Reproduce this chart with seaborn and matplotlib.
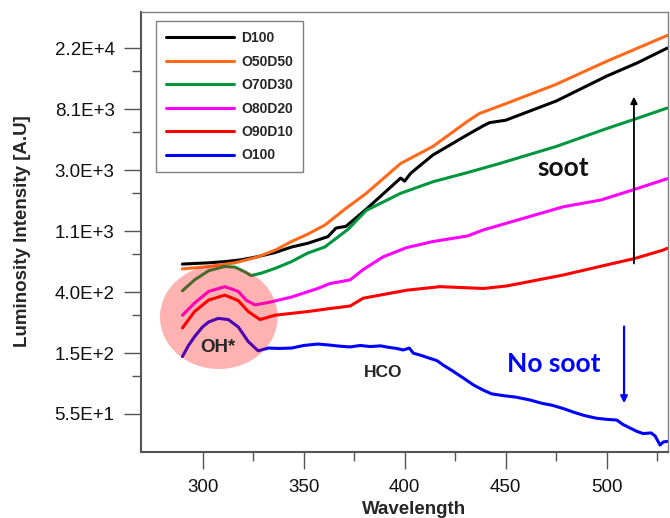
import numpy as np
import pandas as pd
import matplotlib
matplotlib.use("Agg")
import matplotlib.pyplot as plt
from matplotlib.lines import Line2D
from matplotlib.patches import Ellipse
from matplotlib.font_manager import FontProperties
from matplotlib.ticker import FixedLocator, FixedFormatter, NullFormatter
import seaborn as sns

# ---------------------------------------------------------------- data
series_names = ["D100", "O50D50", "O70D30", "O80D20", "O90D10", "O100"]
series_colors = ["#000000", "#FF6A1A", "#00963F", "#FF00FF", "#FF0000", "#0000FF"]

d100_wl = [290, 296, 303, 311, 319, 327, 336, 344, 352, 362, 366, 371, 381,
           398, 400, 403, 414, 431, 439, 442, 450, 475, 500, 515, 530]
d100_int = [639, 645, 652, 665, 685, 720, 773, 845, 898, 1002, 1153, 1188, 1572,
            2618, 2491, 2836, 3827, 5324, 6186, 6503, 6768, 9270, 13960, 17300, 22100]

o50d50_wl = [290, 303, 316, 327.5, 336, 344, 352, 360.5, 367, 370, 381, 398,
             414, 431, 437, 450, 475, 500, 515, 530]
o50d50_int = [590, 614, 652, 720, 804, 925, 1043, 1212, 1437, 1556, 2039, 3327,
              4402, 6634, 7555, 8870, 12200, 17800, 22000, 27200]

o70d30_wl = [290, 296, 303, 311, 316, 321, 324, 329, 336, 344, 352, 360.5, 372,
             381, 398, 414, 431, 447, 475, 500, 515, 530]
o70d30_int = [412, 493, 573, 614, 608, 561, 529, 550, 596, 665, 765, 846, 1130,
              1541, 2039, 2466, 2864, 3327, 4400, 5900, 6970, 8270]

o80d20_wl = [290, 296, 303, 311, 317.6, 321.8, 326, 332.5, 344, 357, 363, 368,
             373, 379.5, 389.4, 401, 414, 431, 439, 478.5, 497, 513, 530]
o80d20_int = [276, 337, 408, 441, 408, 351, 327, 340, 372, 428, 464, 478,
              493, 584, 720, 837, 925, 1012, 1119, 1636, 1826, 2158, 2592]

o90d10_wl = [290, 296, 303, 311, 317.6, 322.6, 328.4, 335.8, 352, 363, 373, 379.5,
             401, 417.5, 439, 450.5, 478.5, 503, 513.7, 528, 530]
o90d10_int = [224, 293, 354, 384, 351, 293, 257, 276, 293, 308, 321, 365,
              416, 441, 428, 446, 534, 645, 699, 804, 828]

o100_wl = [290, 293, 296, 300, 303, 307.7, 312.7, 317.6, 322.6, 327.5, 332.5, 338,
           344, 350, 357, 363, 368, 373, 378, 383, 388, 392, 396, 399.3, 402.3,
           404.3, 408, 412.5, 416, 419, 424, 429, 434, 439, 443, 449, 455, 462,
           468, 473, 478.5, 484, 488.4, 492, 495, 500, 505, 508, 511.5, 515, 518,
           522, 524, 526.4, 528, 530]
o100_int = [140, 168, 194, 228, 247, 262, 257, 228, 179, 154, 161, 160,
            161, 168, 172, 169, 166, 164, 168, 165, 167, 163, 160, 156, 161,
            148, 143, 136, 131, 122, 110, 98.5, 88, 80.6, 76, 73.7, 72, 68.7,
            65, 63, 59.7, 56, 53.5, 52, 50.9, 50, 49.4, 46, 43.4, 41, 39.6,
            40.0, 38, 32.8, 34.5, 34.8]

wavelengths = [d100_wl, o50d50_wl, o70d30_wl, o80d20_wl, o90d10_wl, o100_wl]
intensities = [d100_int, o50d50_int, o70d30_int, o80d20_int, o90d10_int, o100_int]

y_tick_labels = ["5.5E+1", "1.5E+2", "4.0E+2", "1.1E+3", "3.0E+3", "8.1E+3", "2.2E+4"]
x_major = [300, 350, 400, 450, 500]
x_minor = [325, 375, 425, 475, 525]

df = pd.concat(
    [pd.DataFrame({"Wavelength": w, "Intensity": v, "Sample": n})
     for w, v, n in zip(wavelengths, intensities, series_names)],
    ignore_index=True,
)

# ---------------------------------------------------------------- style
sns.set_style("ticks")
plt.rcParams["font.family"] = ["Liberation Sans", "DejaVu Sans"]

fig = plt.figure(figsize=(6.7, 5.18), dpi=100)
ax = fig.add_axes([141 / 670, 1 - 451.7 / 518, 526.7 / 670, 439.7 / 518])
ax.set_yscale("log")

sns.lineplot(data=df, x="Wavelength", y="Intensity", hue="Sample",
             hue_order=series_names, palette=series_colors, estimator=None,
             sort=False, linewidth=2.2, legend=False, ax=ax, zorder=2)

ax.set_xlim(269.5, 530.2)
ax.set_ylim(29.4, 39960)

# natural-log style ticks: e^4 ... e^10, minor at linear midpoints
major_y = np.exp(np.arange(4, 11))
minor_y = (major_y[:-1] + major_y[1:]) / 2
ax.yaxis.set_major_locator(FixedLocator(major_y))
ax.yaxis.set_major_formatter(FixedFormatter(y_tick_labels))
ax.yaxis.set_minor_locator(FixedLocator(minor_y))
ax.yaxis.set_minor_formatter(NullFormatter())
ax.xaxis.set_major_locator(FixedLocator(x_major))
ax.xaxis.set_minor_locator(FixedLocator(x_minor))

tick_col = "#555555"
ax.tick_params(axis="both", which="major", direction="out", length=12.5,
               width=1, color=tick_col, labelsize=13.5, labelcolor="#111111")
ax.tick_params(axis="both", which="minor", direction="out", length=6.3,
               width=1, color=tick_col)
ax.tick_params(axis="y", which="major", pad=6.5)
ax.tick_params(axis="x", which="major", pad=7.3)

for side in ["left", "bottom"]:
    ax.spines[side].set_color("#555555")
    ax.spines[side].set_linewidth(1.5)
for side in ["top", "right"]:
    ax.spines[side].set_color("#808080")
    ax.spines[side].set_linewidth(1.0)

ax.set_ylabel("Luminosity Intensity [A.U]", fontsize=13.5, fontweight="bold")
ax.yaxis.set_label_coords(-0.2164, 0.5008)
ax.yaxis.label.set_va("baseline")
ax.set_xlabel("Wavelength", fontsize=13.5, fontweight="bold")
ax.xaxis.set_label_coords(0.518, -0.1406)
ax.xaxis.label.set_va("baseline")

# ---------------------------------------------------------------- legend
handles = [Line2D([], [], color=c, lw=2.2) for c in series_colors]
leg = ax.legend(handles, series_names, loc="upper left",
                bbox_to_anchor=(0.028, 0.979), borderaxespad=0, frameon=True,
                fancybox=False, edgecolor="#808080", framealpha=1,
                prop=FontProperties(family="Liberation Sans", weight="bold", size=10),
                handlelength=4.9, handletextpad=0.52, labelspacing=0.68,
                borderpad=0.72)
leg.get_frame().set_linewidth(1.0)

# ---------------------------------------------------------------- annotations
ax.add_patch(Ellipse((0.1477, 0.3063), 0.2235, 0.2365, transform=ax.transAxes,
                     facecolor="red", edgecolor="none", alpha=0.3, zorder=3))

ax.text(307.7, 151.7, "OH*", ha="center", va="baseline", fontsize=13.5,
        fontweight="bold", zorder=5)
ax.text(389.4, 99.7, "HCO", ha="center", va="baseline", fontsize=12.5,
        fontweight="bold", zorder=5)
ax.text(478.5, 2730, "soot", ha="center", va="baseline", fontsize=19,
        family="Lato", fontweight="bold", color="#111111", zorder=5)
ax.text(474, 109.3, "No soot", ha="center", va="baseline", fontsize=19,
        family="Lato", fontweight="bold", color="#0000FF", zorder=5)

ax.annotate("", xy=(513.5, 9960), xytext=(513.5, 645),
            arrowprops=dict(arrowstyle="-|>", color="black", lw=1.3,
                            mutation_scale=10, shrinkA=0, shrinkB=0), zorder=5)
ax.annotate("", xy=(508.6, 65.1), xytext=(508.6, 229),
            arrowprops=dict(arrowstyle="-|>", color="#0000FF", lw=1.6,
                            mutation_scale=10, shrinkA=0, shrinkB=0), zorder=5)

fig.savefig("out.png", dpi=100)
